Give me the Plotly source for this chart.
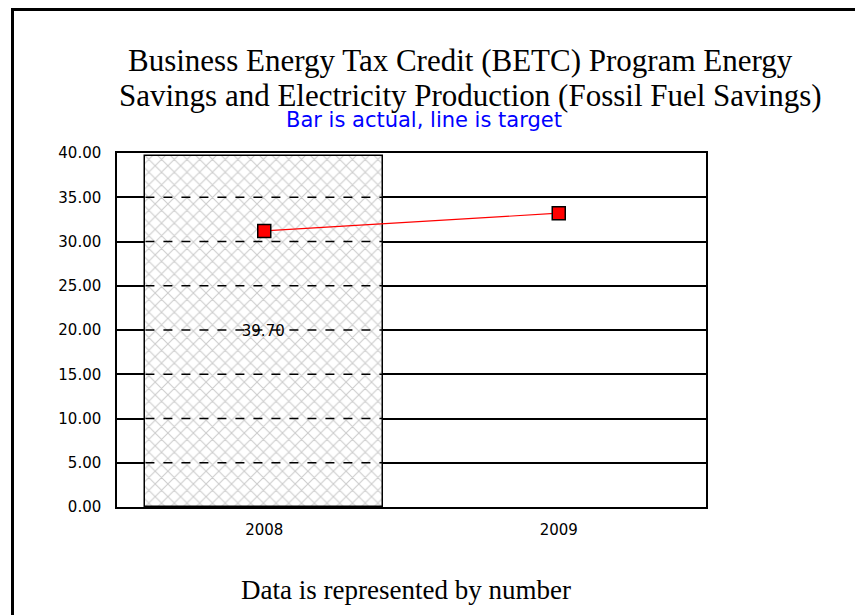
import plotly.graph_objects as go

categories = ["2008", "2009"]
actual_values = [39.70, None]
target_values = [31.2, 33.2]
y_tick_values = [0, 5, 10, 15, 20, 25, 30, 35, 40]

title_line1 = "Business Energy Tax Credit (BETC) Program Energy"
title_line2 = "Savings and Electricity Production (Fossil Fuel Savings)"
subtitle = "Bar is actual, line is target"
footer = "Data is represented by number"

BAR_WIDTH = 0.807

fig = go.Figure()
fig.add_trace(go.Bar(
    x=categories, y=actual_values, width=BAR_WIDTH,
    marker=dict(color="white",
                line=dict(color="black", width=1.5),
                pattern=dict(shape="x", fgcolor="#999999", bgcolor="white",
                             size=9, solidity=0.22)),
    text=[f"{v:.2f}" if v is not None else "" for v in actual_values],
    textposition="inside", insidetextanchor="middle",
    textfont=dict(family="DejaVu Sans", size=15, color="black"),
    showlegend=False, hoverinfo="y",
))
fig.add_trace(go.Scatter(
    x=categories, y=target_values, mode="lines+markers",
    line=dict(color="red", width=1.2),
    marker=dict(symbol="square", size=13, color="red", line=dict(color="black", width=1.5)),
    showlegend=False,
))

L, R, T, B = 117, 149, 153, 108
W, H = 855, 615
pw, ph = W - L - R, H - T - B
def px(x): return (x - L) / pw
def py(y): return (H - B - y) / ph

# dashed gridlines visible through the hatched bar
shapes = []
for i, v in enumerate(actual_values):
    if v is None:
        continue
    for t in y_tick_values:
        if 0 < t < v:
            shapes.append(dict(type="line", xref="x", yref="y",
                               x0=i - BAR_WIDTH / 2, x1=i + BAR_WIDTH / 2, y0=t, y1=t,
                               line=dict(color="black", width=1.5, dash="dash"),
                               layer="above"))
shapes.append(dict(type="rect", xref="paper", yref="paper",
                   x0=px(12.5), x1=px(880), y0=py(640), y1=py(9.5),
                   line=dict(color="black", width=3), fillcolor="rgba(0,0,0,0)", layer="above"))

fig.update_layout(
    width=W, height=H,
    margin=dict(l=L, r=R, t=T, b=B),
    paper_bgcolor="white", plot_bgcolor="white",
    bargap=0,
    xaxis=dict(range=[-0.5, 1.5], showgrid=False, showline=True, linecolor="black",
               linewidth=1.5, mirror=True, ticks="", zeroline=False, ticklabelstandoff=8,
               tickfont=dict(family="DejaVu Sans", size=15, color="black")),
    yaxis=dict(range=[0, 40], tickvals=y_tick_values, tickformat=".2f",
               showgrid=True, gridcolor="black", gridwidth=1.5,
               showline=True, linecolor="black", linewidth=1.5, mirror=True,
               ticks="", zeroline=False, ticklabelstandoff=11,
               tickfont=dict(family="DejaVu Sans", size=15, color="black")),
    shapes=shapes,
    annotations=[
        dict(text=title_line1, xref="paper", yref="paper", x=px(460), y=py(60),
             xanchor="center", yanchor="middle", showarrow=False,
             font=dict(family="Liberation Serif", size=31, color="black")),
        dict(text=title_line2, xref="paper", yref="paper", x=px(470), y=py(95),
             xanchor="center", yanchor="middle", showarrow=False,
             font=dict(family="Liberation Serif", size=31, color="black")),
        dict(text=subtitle, xref="paper", yref="paper", x=px(424), y=py(120),
             xanchor="center", yanchor="middle", showarrow=False,
             font=dict(family="DejaVu Sans", size=21, color="blue")),
        dict(text=footer, xref="paper", yref="paper", x=px(406), y=py(590),
             xanchor="center", yanchor="middle", showarrow=False,
             font=dict(family="Liberation Serif", size=27, color="black")),
    ],
)

fig.write_html("out.html", config={"displayModeBar": False},
               post_script="document.body.style.margin='0';")
